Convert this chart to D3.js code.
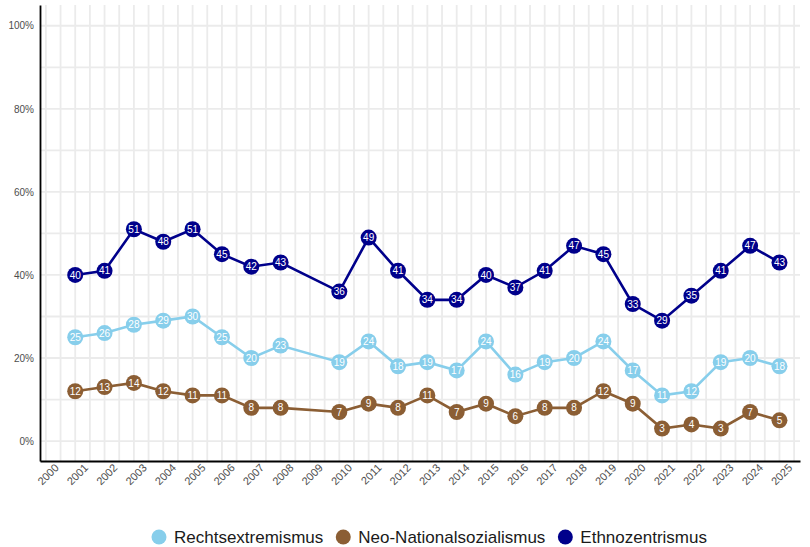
<!DOCTYPE html>
<html>
<head>
<meta charset="utf-8">
<script src="https://cdn.jsdelivr.net/npm/d3@7"></script>
<style>
  body { margin: 0; background: #fff; }
  svg { font-family: "Liberation Sans", Arial, sans-serif; }
</style>
</head>
<body>
<div id="chart"></div>
<script>
const years = [2001, 2002, 2003, 2004, 2005, 2006, 2007, 2008, 2010, 2011, 2012, 2013,
  2014, 2015, 2016, 2017, 2018, 2019, 2020, 2021, 2022, 2023, 2024, 2025]
const rechtsextremismus = [25, 26, 28, 29, 30, 25, 20, 23, 19, 24, 18, 19,
  17, 24, 16, 19, 20, 24, 17, 11, 12, 19, 20, 18]
const neoNationalsozialismus = [12, 13, 14, 12, 11, 11, 8, 8, 7, 9, 8, 11,
  7, 9, 6, 8, 8, 12, 9, 3, 4, 3, 7, 5]
const ethnozentrismus = [40, 41, 51, 48, 51, 45, 42, 43, 36, 49, 41, 34,
  34, 40, 37, 41, 47, 45, 33, 29, 35, 41, 47, 43]
const tickYears = d3.range(2000, 2026)
const yTicks = [0, 20, 40, 60, 80, 100]

const series = [
  { name: 'Rechtsextremismus', color: '#87CEEB', values: rechtsextremismus },
  { name: 'Neo-Nationalsozialismus', color: '#8B5E34', values: neoNationalsozialismus },
  { name: 'Ethnozentrismus', color: '#00008B', values: ethnozentrismus }
]

const width = 810
const height = 547

const x = d3.scaleLinear().domain([1999.8, 2025.7]).range([40, 800])
const y = d3.scaleLinear().domain([-4.8, 105]).range([461, 5])

const svg = d3.select('#chart').append('svg')
  .attr('width', width)
  .attr('height', height)

/* grid */
const grid = svg.append('g')
grid.selectAll('.vgrid')
  .data(d3.range(2000, 2026, 0.5))
  .enter().append('line')
  .attr('x1', d => x(d)).attr('x2', d => x(d))
  .attr('y1', y.range()[0]).attr('y2', y.range()[1])
  .attr('stroke', '#ebebeb')
  .attr('stroke-width', 1.8)
grid.selectAll('.hgrid')
  .data(d3.range(0, 101, 10))
  .enter().append('line')
  .attr('x1', x.range()[0]).attr('x2', x.range()[1])
  .attr('y1', d => y(d)).attr('y2', d => y(d))
  .attr('stroke', '#ebebeb')
  .attr('stroke-width', 1.8)

/* axes */
const xAxis = d3.axisBottom(x).tickValues(tickYears).tickFormat(d3.format('d')).tickSize(0)
const yAxis = d3.axisLeft(y).tickValues(yTicks).tickFormat(d => d + '%').tickSize(0)

const gx = svg.append('g')
  .attr('transform', `translate(0, ${y.range()[0]})`)
  .call(xAxis)
gx.select('.domain').attr('stroke', '#000').attr('stroke-width', 1.8)
gx.selectAll('.tick text')
  .attr('fill', '#4d4d4d')
  .style('font-size', '11px')
  .attr('text-anchor', 'end')
  .attr('x', 4)
  .attr('y', 8)
  .attr('dy', '0.6em')
  .attr('transform', 'rotate(-45)')

const gy = svg.append('g')
  .attr('transform', `translate(${x.range()[0]}, 0)`)
  .call(yAxis)
gy.select('.domain').attr('stroke', '#000').attr('stroke-width', 1.8)
gy.selectAll('.tick text')
  .attr('fill', '#4d4d4d')
  .style('font-size', '10px')
  .attr('x', -6)

/* lines and points */
const line = d3.line()
  .x((d, i) => x(years[i]))
  .y(d => y(d))

series.forEach(s => {
  const g = svg.append('g')
  g.append('path')
    .attr('d', line(s.values))
    .attr('fill', 'none')
    .attr('stroke', s.color)
    .attr('stroke-width', 2.6)
  const pts = g.selectAll('.pt')
    .data(s.values)
    .enter().append('g')
    .attr('transform', (d, i) => `translate(${x(years[i])}, ${y(d)})`)
  pts.append('circle')
    .attr('r', 8)
    .attr('fill', s.color)
  pts.append('text')
    .text(d => d)
    .attr('text-anchor', 'middle')
    .attr('dy', '0.36em')
    .attr('fill', '#fff')
    .style('font-size', '10px')
})

/* legend */
const legend = svg.append('g')
const items = legend.selectAll('.item')
  .data(series)
  .enter().append('g')
items.append('circle')
  .attr('r', 7.5)
  .attr('fill', d => d.color)
items.append('text')
  .text(d => d.name)
  .attr('x', 15)
  .attr('dy', '0.35em')
  .attr('fill', '#1a1a1a')
  .style('font-size', '17px')

let pos = 0
const offsets = []
items.each(function() {
  offsets.push(pos)
  const w = d3.select(this).select('text').node().getComputedTextLength()
  pos += 15 + w + 20
})
items.attr('transform', (d, i) => `translate(${159 + offsets[i]}, 537)`)
</script>
</body>
</html>
